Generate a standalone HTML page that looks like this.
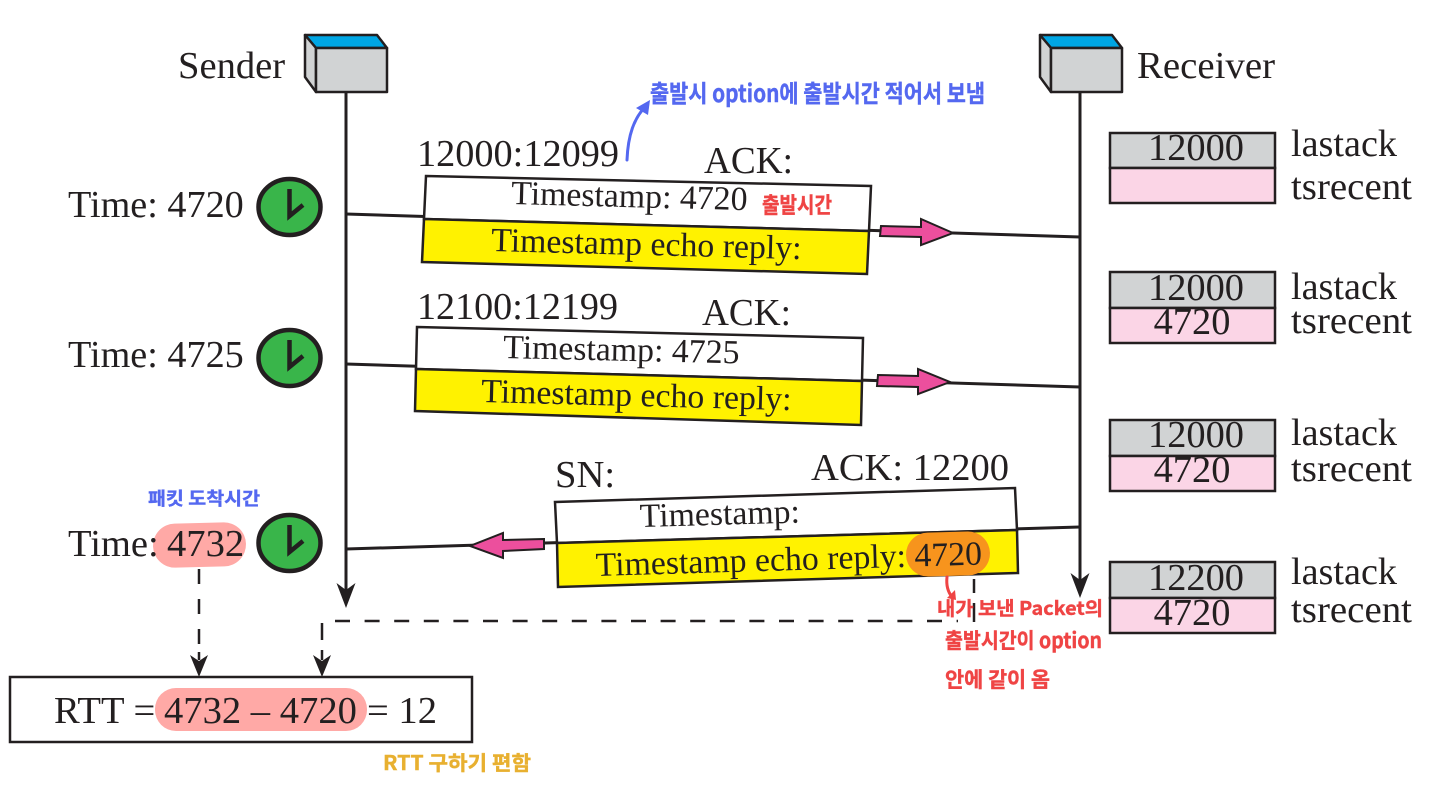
<!DOCTYPE html>
<html><head><meta charset="utf-8">
<style>
html,body{margin:0;padding:0;background:#fff;width:1440px;height:800px;overflow:hidden}
svg{display:block}
text{font-family:"Liberation Serif","Noto Serif CJK SC",serif;fill:#231f20}
.h{font-family:"WenQuanYi Zen Hei","Noto Sans CJK KR",sans-serif;font-weight:700;stroke-width:.4px}
.l{font-size:38.6px}
.m{font-size:33.8px}
</style></head><body>
<svg width="1440" height="800" viewBox="0 0 1440 800" xmlns="http://www.w3.org/2000/svg">
<rect width="1440" height="800" fill="#fff"/>

<!-- lifelines -->
<g stroke="#231f20" stroke-width="3" fill="none">
<line x1="346" y1="92" x2="346" y2="590"/>
<line x1="1080" y1="92" x2="1080" y2="580"/>
<line x1="346" y1="214" x2="1080" y2="237"/>
<line x1="346" y1="364" x2="1080" y2="387"/>
<line x1="346" y1="549" x2="1080" y2="527"/>
</g>
<path d="M336.5 583L346 590L355.5 583L346 608Z" fill="#231f20"/>
<path d="M1070.5 573L1080 580L1089.5 573L1080 598Z" fill="#231f20"/>

<!-- sender / receiver -->
<g stroke="#231f20" stroke-width="2.5" stroke-linejoin="round">
<path d="M305 35H377L387 48H316Z" fill="#00a6e4"/>
<path d="M305 35L316 48V92L305 77Z" fill="#d1d3d4"/>
<rect x="316" y="48" width="71" height="44" fill="#d1d3d4"/>
<path d="M1040 35H1112L1122 48H1051Z" fill="#00a6e4"/>
<path d="M1040 35L1051 48V92L1040 77Z" fill="#d1d3d4"/>
<rect x="1051" y="48" width="71" height="44" fill="#d1d3d4"/>
</g>
<text class="l" x="178" y="78">Sender</text>
<text class="l" x="1137" y="78" textLength="138" lengthAdjust="spacingAndGlyphs">Receiver</text>

<!-- segment 1 -->
<path d="M426 176L871 186L869 231L424 219Z" fill="#fff" stroke="#231f20" stroke-width="2.5"/>
<path d="M424 219L869 231L867 274L422 262Z" fill="#fff200" stroke="#231f20" stroke-width="2.5"/>
<text class="l" x="417" y="166" textLength="202" lengthAdjust="spacingAndGlyphs">12000:12099</text>
<text class="l" x="704" y="173" textLength="89" lengthAdjust="spacingAndGlyphs">ACK:</text>
<text class="m" transform="translate(511 204) rotate(1.5)">Timestamp: 4720</text>
<text class="m" transform="translate(491 251) rotate(1.5)">Timestamp echo reply:</text>
<path d="M881 226L921 227V219L953 233L921 245V237L880 236Z" fill="#ec4f9d" stroke="#231f20" stroke-width="2"/>

<!-- segment 2 -->
<path d="M417 327L863 338L862 381L416 369Z" fill="#fff" stroke="#231f20" stroke-width="2.5"/>
<path d="M416 369L862 381L861 425L415 411Z" fill="#fff200" stroke="#231f20" stroke-width="2.5"/>
<text class="l" x="417" y="319" textLength="201" lengthAdjust="spacingAndGlyphs">12100:12199</text>
<text class="l" x="702" y="325" textLength="89" lengthAdjust="spacingAndGlyphs">ACK:</text>
<text class="m" transform="translate(503 358) rotate(1.3)">Timestamp: 4725</text>
<text class="m" transform="translate(481 402) rotate(1.5)">Timestamp echo reply:</text>
<path d="M878 375L918 376V369L950 382L918 394V387L877 386Z" fill="#ec4f9d" stroke="#231f20" stroke-width="2"/>

<!-- segment 3 -->
<path d="M555 502L1015 488L1017 530L557 543Z" fill="#fff" stroke="#231f20" stroke-width="2.5"/>
<path d="M557 543L1017 530L1018 573L558 587Z" fill="#fff200" stroke="#231f20" stroke-width="2.5"/>
<text class="l" x="555" y="487">SN:</text>
<text class="l" x="811" y="480" textLength="198" lengthAdjust="spacingAndGlyphs">ACK: 12200</text>
<text class="m" transform="translate(640 527) rotate(-1.6)">Timestamp:</text>
<rect x="906" y="532" width="84" height="44" rx="22" fill="#f7941d" transform="rotate(-1.6 948 554)"/>
<text class="m" transform="translate(596 576) rotate(-1.7)">Timestamp echo reply: 4720</text>
<path d="M544 539L503 540V533L470 546L503 558V551L544 549Z" fill="#ec4f9d" stroke="#231f20" stroke-width="2"/>

<!-- time labels -->
<text x="68" y="217" style="font-size:38.2px">Time: 4720</text>
<text x="68" y="367" style="font-size:38.2px">Time: 4725</text>
<rect x="153" y="523" width="93" height="44" rx="22" fill="#ffa9a6" transform="rotate(-1.5 200 545)"/>
<text class="l" x="68" y="556">Time:</text>
<text class="l" x="167" y="556">4732</text>

<!-- clocks -->
<g fill="#39b54a" stroke="#231f20" stroke-width="4.5">
<ellipse cx="289.5" cy="207" rx="31" ry="28"/>
<ellipse cx="289.5" cy="358" rx="31" ry="28"/>
<ellipse cx="289.5" cy="543" rx="31" ry="28"/>
</g>
<g fill="none" stroke="#231f20" stroke-width="4.5">
<path d="M289.5 189V216L303 205"/>
<path d="M289.5 340V367L303 356"/>
<path d="M289.5 525V552L303 541"/>
</g>

<!-- dashed -->
<g stroke="#231f20" stroke-width="2.5" fill="none">
<line x1="199" y1="569" x2="199" y2="584"/>
<line x1="199" y1="599" x2="199" y2="614"/>
<line x1="199" y1="629" x2="199" y2="644"/>
<line x1="199" y1="652" x2="199" y2="660"/>
<line x1="322" y1="623" x2="322" y2="640"/>
<line x1="322" y1="650" x2="322" y2="660"/>
<line x1="335" y1="621" x2="958" y2="621" stroke-dasharray="15 14.6"/>
<line x1="974" y1="579" x2="974" y2="593"/>
<line x1="974" y1="603" x2="974" y2="622"/>
</g>
<path d="M190 655L199 661L208 655L199 677Z" fill="#231f20"/>
<path d="M313 655L322 661L331 655L322 677Z" fill="#231f20"/>

<!-- RTT -->
<rect x="10" y="677" width="462" height="65" fill="#fff" stroke="#231f20" stroke-width="2.5"/>
<rect x="155" y="688" width="212" height="43" rx="21" fill="#ffa9a6"/>
<text class="l" x="54" y="723">RTT =</text>
<text class="l" x="164" y="723">4732 – 4720</text>
<text class="l" x="367" y="723">= 12</text>

<!-- state boxes -->
<g stroke="#231f20" stroke-width="2.5">
<rect x="1110" y="133" width="165" height="35" fill="#d1d3d4"/><rect x="1110" y="168" width="165" height="35" fill="#fbd5e6"/>
<rect x="1110" y="272" width="165" height="36" fill="#d1d3d4"/><rect x="1110" y="308" width="165" height="35" fill="#fbd5e6"/>
<rect x="1110" y="420" width="165" height="36" fill="#d1d3d4"/><rect x="1110" y="456" width="165" height="35" fill="#fbd5e6"/>
<rect x="1110" y="562" width="165" height="36" fill="#d1d3d4"/><rect x="1110" y="598" width="165" height="35" fill="#fbd5e6"/>
</g>
<g text-anchor="middle" style="font-size:38.4px">
<text x="1196" y="160">12000</text>
<text x="1196" y="300">12000</text><text x="1192" y="334">4720</text>
<text x="1196" y="447">12000</text><text x="1192" y="482">4720</text>
<text x="1196" y="590">12200</text><text x="1192" y="625">4720</text>
</g>
<g style="font-size:38.5px">
<text x="1291" y="156" textLength="106" lengthAdjust="spacingAndGlyphs">lastack</text><text x="1291" y="199" textLength="121" lengthAdjust="spacingAndGlyphs">tsrecent</text>
<text x="1291" y="299" textLength="106" lengthAdjust="spacingAndGlyphs">lastack</text><text x="1291" y="333" textLength="121" lengthAdjust="spacingAndGlyphs">tsrecent</text>
<text x="1291" y="445" textLength="106" lengthAdjust="spacingAndGlyphs">lastack</text><text x="1291" y="481" textLength="121" lengthAdjust="spacingAndGlyphs">tsrecent</text>
<text x="1291" y="584" textLength="106" lengthAdjust="spacingAndGlyphs">lastack</text><text x="1291" y="622" textLength="121" lengthAdjust="spacingAndGlyphs">tsrecent</text>
</g>

<!-- handwritten annotations -->
<path d="M627 160C628 135 634 118 646 106" fill="none" stroke="#5468f0" stroke-width="3" stroke-linecap="round"/>
<path d="M650 100L648 115L636 108Z" fill="#5468f0"/>
<text class="h" x="650" y="102" font-size="24" style="fill:#5468f0;stroke:#5468f0" textLength="335" lengthAdjust="spacingAndGlyphs">출발시 option에 출발시간 적어서 보냄</text>
<text class="h" x="762" y="213" font-size="22" style="fill:#ef4444;stroke:#ef4444" textLength="70" lengthAdjust="spacingAndGlyphs">출발시간</text>
<text class="h" x="148" y="505" font-size="18" style="fill:#5468f0;stroke:#5468f0" textLength="112" lengthAdjust="spacingAndGlyphs">패킷 도착시간</text>
<path d="M947 577C946 586 948 592 952 597" fill="none" stroke="#ef4444" stroke-width="3" stroke-linecap="round"/>
<path d="M956 600L947 598L955 590Z" fill="#ef4444"/>
<text class="h" x="937" y="615" font-size="19" style="fill:#ef4444;stroke:#ef4444" textLength="166" lengthAdjust="spacingAndGlyphs">내가 보낸 Packet의</text>
<text class="h" x="945" y="648" font-size="21" style="fill:#ef4444;stroke:#ef4444" textLength="157" lengthAdjust="spacingAndGlyphs">출발시간이 option</text>
<text class="h" x="945" y="687" font-size="21" style="fill:#ef4444;stroke:#ef4444" textLength="105" lengthAdjust="spacingAndGlyphs">안에 같이 옴</text>
<text class="h" x="383" y="770" font-size="20" style="fill:#e8b030;stroke:#e8b030" textLength="148" lengthAdjust="spacingAndGlyphs">RTT 구하기 편함</text>
</svg>
</body></html>
